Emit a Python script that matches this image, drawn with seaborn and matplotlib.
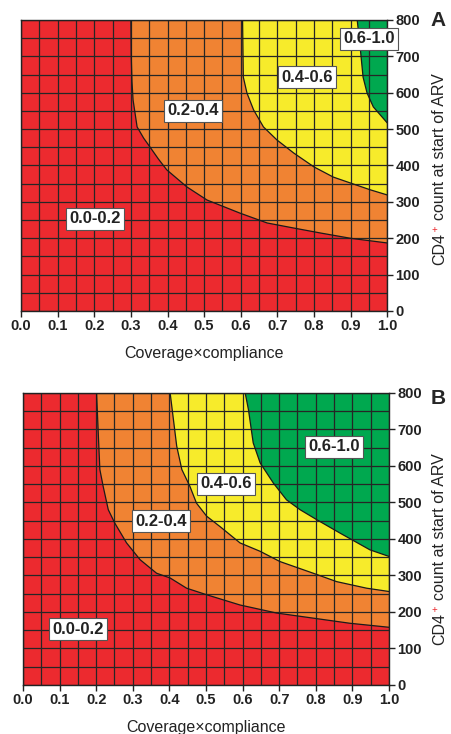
import numpy as np
import pandas as pd
import seaborn as sns
import matplotlib.pyplot as plt

sns.set_style("white")
plt.rcParams["font.family"] = ["Liberation Sans", "DejaVu Sans"]

# colores de las zonas
c_red = "#ec2a2f"
c_orange = "#f08333"
c_yellow = "#f7eb2b"
c_green = "#00a84f"

# --- Panel A: fronteras de las zonas (x, y) ---
a02_x = [0.300, 0.301, 0.303, 0.306, 0.317, 0.335, 0.352, 0.375, 0.398, 0.453, 0.508, 0.598, 0.672, 0.745, 0.820, 0.899, 1.000]
a02_y = [800, 700, 630, 580, 506, 475, 451, 418, 388, 341, 305, 269, 242, 228, 214, 200, 187]
a04_x = [0.605, 0.606, 0.607, 0.617, 0.635, 0.662, 0.699, 0.745, 0.800, 0.853, 0.899, 0.954, 1.000]
a04_y = [800, 720, 643, 599, 553, 506, 470, 434, 396, 368, 352, 333, 319]
a06_x = [0.918, 0.926, 0.934, 0.945, 0.962, 0.981, 1.000]
a06_y = [800, 726, 643, 599, 561, 539, 517]

# --- Panel B ---
b02_x = [0.201, 0.206, 0.210, 0.219, 0.233, 0.251, 0.283, 0.320, 0.365, 0.402, 0.447, 0.502, 0.593, 0.693, 0.793, 0.893, 1.000]
b02_y = [800, 681, 590, 544, 480, 443, 389, 343, 306, 293, 265, 247, 219, 197, 183, 169, 158]
b04_x = [0.402, 0.411, 0.420, 0.434, 0.456, 0.474, 0.502, 0.538, 0.593, 0.648, 0.702, 0.793, 0.857, 0.939, 1.000]
b04_y = [800, 727, 654, 590, 544, 498, 462, 434, 389, 366, 338, 306, 283, 265, 256]
b06_x = [0.607, 0.616, 0.629, 0.648, 0.684, 0.720, 0.757, 0.802, 0.866, 0.948, 1.000]
b06_y = [800, 754, 663, 608, 553, 507, 480, 453, 416, 370, 352]

zonas = ["0.0-0.2", "0.2-0.4", "0.4-0.6", "0.6-1.0"]
# posiciones de las etiquetas (x, y)
a_lab_x = [0.202, 0.470, 0.780, 0.950]
a_lab_y = [253, 550, 643, 748]
b_lab_x = [0.150, 0.377, 0.555, 0.850]
b_lab_y = [153, 449, 551, 652]

x_ticks = np.round(np.arange(0, 1.01, 0.1), 1)
y_ticks = np.arange(0, 801, 100)

fig = plt.figure(figsize=(4.51, 7.34), dpi=100)
axA = fig.add_axes([0.0466, 0.5763, 0.812, 0.3965])
axB = fig.add_axes([0.051, 0.0668, 0.8115, 0.398])


def dibujar(ax, fronteras, lab_x, lab_y):
    ax.set_xlim(0, 1)
    ax.set_ylim(0, 800)
    ax.set_facecolor(c_red)
    # rellenar cada zona por encima de su frontera
    for (fx, fy), col in zip(fronteras, [c_orange, c_yellow, c_green]):
        px = list(fx) + [1.0, 1.0]
        py = list(fy) + [800, 800]
        ax.fill(px, py, color=col, lw=0, zorder=1)
    # curvas de nivel
    for fx, fy in fronteras:
        df = pd.DataFrame({"x": fx, "y": fy})
        sns.lineplot(data=df, x="x", y="y", sort=False, estimator=None,
                     color="#1a1a1a", lw=0.9, ax=ax, zorder=3)
    ax.set_xticks(x_ticks)
    ax.set_xticks(np.arange(0.05, 1.0, 0.1), minor=True)
    ax.set_yticks(y_ticks)
    ax.set_yticks(np.arange(50, 800, 100), minor=True)
    ax.set_xticklabels([f"{v:.1f}" for v in x_ticks], fontweight="bold", fontsize=10.5)
    ax.set_yticklabels([str(v) for v in y_ticks], fontweight="bold", fontsize=10.5)
    ax.yaxis.tick_right()
    ax.tick_params(which="major", direction="out", length=4, width=1, color="#222222",
                   bottom=True, right=True, left=False, pad=2, labelcolor="#222222")
    ax.tick_params(which="minor", length=0)
    ax.set_axisbelow(False)
    ax.grid(which="both", color="#262626", lw=0.9, zorder=2)
    for s in ax.spines.values():
        s.set_color("#222222")
        s.set_linewidth(1)
        s.set_zorder(4)
    ax.set_xlabel("Coverage×compliance", fontsize=11.5, labelpad=9, color="#222222")
    ax.set_ylabel("")
    for t, x, y in zip(zonas, lab_x, lab_y):
        ax.text(x, y, t, ha="center", va="center", fontsize=12, fontweight="bold",
                color="#222222", zorder=6, clip_on=False,
                bbox=dict(boxstyle="square,pad=0.2", fc="white", ec="#555555", lw=0.8))


dibujar(axA, [(a02_x, a02_y), (a04_x, a04_y), (a06_x, a06_y)], a_lab_x, a_lab_y)
dibujar(axB, [(b02_x, b02_y), (b04_x, b04_y), (b06_x, b06_y)], b_lab_x, b_lab_y)


def etiqueta_y(y_fig):
    t = fig.text(440 / 451, y_fig, "CD4", rotation=90, ha="center", va="bottom",
                 fontsize=11.5, color="#222222")
    plt.annotate("+", xy=(0, 1), xycoords=t, xytext=(-0.5, -1.2), textcoords="offset points",
                 ha="left", va="bottom", fontsize=7, color=c_red, annotation_clip=False)
    plt.annotate("count at start of ARV", xy=(0.5, 1), xycoords=t, xytext=(0, 9.5),
                 textcoords="offset points", rotation=90, ha="center", va="bottom",
                 fontsize=11.5, color="#222222", annotation_clip=False)


etiqueta_y((734 - 265) / 734)
etiqueta_y((734 - 645) / 734)

fig.text(438 / 451, (734 - 21) / 734, "A", fontsize=15, fontweight="bold", ha="center", va="center")
fig.text(438 / 451, (734 - 398) / 734, "B", fontsize=15, fontweight="bold", ha="center", va="center")

fig.savefig("out.png", dpi=100)
